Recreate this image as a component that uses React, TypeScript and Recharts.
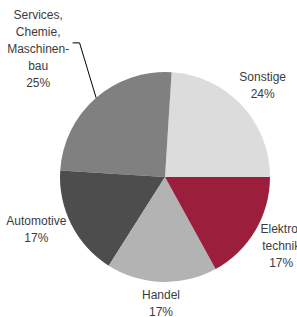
// Branchenverteilung als Kreisdiagramm (Recharts).
import { PieChart, Pie, Cell } from "recharts";

// Kategorien und Anteile in Prozent (gegen den Uhrzeigersinn ab 3 Uhr).
const BRANCHEN = ["Sonstige", "Services, Chemie, Maschinenbau", "Automotive", "Handel", "Elektrotechnik"];
const ANTEILE = [24, 25, 17, 17, 17];
// Beschriftungszeilen je Kategorie.
const ZEILEN = [
  ["Sonstige"],
  ["Services,", "Chemie,", "Maschinen-", "bau"],
  ["Automotive"],
  ["Handel"],
  ["Elektro-", "technik"],
];

const FARBEN = ["#dcdcdc", "#808080", "#4d4d4d", "#b3b3b3", "#9b1f3d"];
// Abstand und Winkelversatz der Beschriftung relativ zur Segmentmitte.
const LABEL_RADIUS = [134, 180, 139, 127, 135];
const LABEL_VERSATZ = [0, 3.4, -4.8, 0, 0];

const daten = BRANCHEN.map((name, i) => ({ name, wert: ANTEILE[i], zeilen: ZEILEN[i] }));

const RAD = Math.PI / 180;
const ZEILENHOEHE = 17;

function Beschriftung(props: any) {
  const { cx, cy, midAngle, outerRadius, index, payload } = props;
  const zeilen: string[] = [...payload.zeilen, `${payload.wert}%`];
  const r = LABEL_RADIUS[index];
  const w = midAngle + LABEL_VERSATZ[index];
  const x = cx + r * Math.cos(-w * RAD);
  const y = cy + r * Math.sin(-w * RAD);
  const y0 = y - ((zeilen.length - 1) * ZEILENHOEHE) / 2;

  // Führungslinie nur für die Services-Beschriftung.
  let linie = null;
  if (index === 1) {
    const sx = cx + outerRadius * Math.cos(-(midAngle - 0.4) * RAD);
    const sy = cy + outerRadius * Math.sin(-(midAngle - 0.4) * RAD);
    const ex = cx + 159 * Math.cos(-122.5 * RAD);
    const ey = cy + 159 * Math.sin(-122.5 * RAD);
    linie = (
      <polyline
        points={`${sx},${sy} ${ex},${ey} ${ex - 7},${ey}`}
        fill="none"
        stroke="#000"
        strokeWidth={1}
      />
    );
  }

  return (
    <g>
      {linie}
      <text
        x={x}
        y={y0}
        textAnchor="middle"
        dominantBaseline="central"
        fill="#3c3c3c"
        fontSize={12}
        fontFamily="'Liberation Sans', Arial, sans-serif"
      >
        {zeilen.map((z, i) => (
          <tspan key={i} x={x} y={y0 + i * ZEILENHOEHE}>
            {z}
          </tspan>
        ))}
      </text>
    </g>
  );
}

export default function App() {
  return (
    <div style={{ position: "fixed", left: 0, top: 0, background: "#fff" }}>
      <PieChart width={297} height={317} margin={{ top: 0, right: 0, bottom: 0, left: 0 }}>
        <Pie
          data={daten}
          dataKey="wert"
          nameKey="name"
          cx={165}
          cy={177}
          outerRadius={105}
          startAngle={0}
          endAngle={360}
          stroke="none"
          label={Beschriftung}
          labelLine={false}
          isAnimationActive={false}
        >
          {daten.map((d, i) => (
            <Cell key={d.name} fill={FARBEN[i]} />
          ))}
        </Pie>
      </PieChart>
    </div>
  );
}
